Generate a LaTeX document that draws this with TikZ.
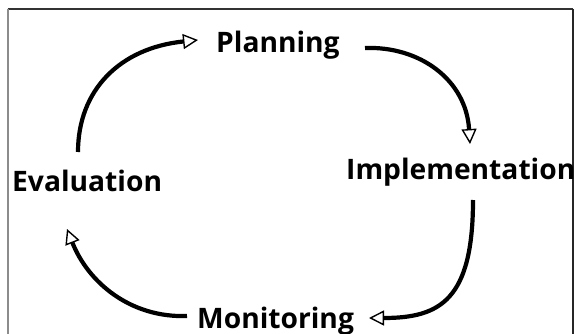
\documentclass[tikz,border=0pt]{standalone}
\usepackage{fontspec}
\setmainfont{Open Sans}
\usetikzlibrary{arrows.meta}
\begin{document}
\begin{tikzpicture}[x=1pt,y=-1pt,
  lbl/.style={font=\bfseries\fontsize{28.2}{30}\selectfont, inner sep=0pt, anchor=base west},
  cyc/.style={line width=4.2pt, -{Triangle[open, length=15pt, width=15pt, line width=1.4pt]}}]
\useasboundingbox (0,0) rectangle (575,334);
\fill[white] (0,0) rectangle (575,334);
% frame
\draw[line width=2pt, black!80] (7.5,9) -- (573,9);
\draw[line width=2pt, black!45] (7.5,9) -- (7.5,340);
\draw[line width=2pt, black!85] (573,9) -- (573,340);
% labels
\node[lbl] (plan) at (216,53) {Planning};
\node[lbl] (impl) at (346,179) {Implementation};
\node[lbl] (eval) at (12,191) {Evaluation};
\node[lbl] (mon) at (197,328) {Monitoring};
% connector ends
\coordinate (e1) at (78,152);   \coordinate (t1) at (198,40);
\coordinate (p1) at (365,48);   \coordinate (t2) at (470,144);
\coordinate (i1) at (473,200);  \coordinate (t3) at (369,318);
\coordinate (m1) at (187,316);  \coordinate (t4) at (67,229);
% cycle arrows
\draw[cyc] (e1) .. controls (78,90) and (120,48) .. (t1);
\draw[cyc] (p1) .. controls (420,46) and (466,80) .. (t2);
\draw[cyc] (i1) .. controls (473,300) and (440,318) .. (t3);
\draw[cyc] (m1) .. controls (130,318) and (88,282) .. (t4);
\end{tikzpicture}
\end{document}
